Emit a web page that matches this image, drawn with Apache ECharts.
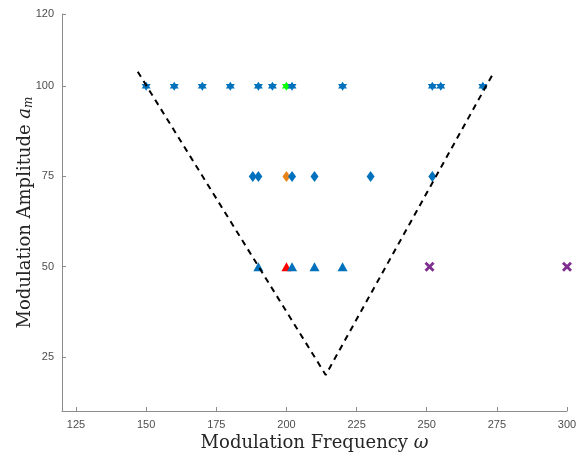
<!DOCTYPE html>
<html>
<head>
<meta charset="utf-8">
<script src="https://cdn.jsdelivr.net/npm/echarts@6/dist/echarts.min.js"></script>
</head>
<body style="margin:0">
<div id="main" style="width:579px;height:455px;"></div>
<script>
// frequencies tested at each amplitude
var freqAmp100 = [150, 160, 170, 180, 190, 195, 202, 220, 252, 255, 270];
var freqAmp75 = [188, 190, 202, 210, 230, 252];
var freqAmp50 = [190, 202, 210, 220];
var freqCross50 = [251, 300];
var highlight = [[200, 100], [200, 75], [200, 50]];
// dashed V boundary
var vFreq = [147, 214, 274];
var vAmp = [104, 20, 104];
var xTicks = [125, 150, 175, 200, 225, 250, 275, 300];
var yTicks = [25, 50, 75, 100, 120];

var hexagram = 'path://M0,-100 L28.9,-50 L86.6,-50 L57.7,0 L86.6,50 L28.9,50 L0,100 L-28.9,50 L-86.6,50 L-57.7,0 L-86.6,-50 L-28.9,-50 Z';
var cross = 'path://M-3,-5 L0,-2 L3,-5 L5,-3 L2,0 L5,3 L3,5 L0,2 L-3,5 L-5,3 L-2,0 L-5,-3 Z';
var blue = '#0072BD';

function pts(xs, y) {
    return xs.map(function (x) { return [x, y]; });
}

var chart = echarts.init(document.getElementById('main'));
var axisCommon = {
    axisLine: {lineStyle: {color: '#8c8c8c', width: 1}},
    axisTick: {inside: true, length: 4, lineStyle: {color: '#8c8c8c'}},
    splitLine: {show: false},
    nameMoveOverlap: false,
    nameTextStyle: {
        color: '#262626',
        rich: {
            n: {fontFamily: 'DejaVu Serif', fontSize: 18, color: '#262626'},
            i: {fontFamily: 'DejaVu Serif', fontStyle: 'italic', fontSize: 18, color: '#262626'},
            s: {fontFamily: 'DejaVu Serif', fontStyle: 'italic', fontSize: 12, color: '#262626', verticalAlign: 'bottom', padding: [8, 0, 0, 0]}
        }
    }
};

function dot(color) {
    return {color: color, opacity: 1};
}

var option = {
    animation: false,
    grid: {left: 62, right: 12, top: 14, bottom: 44, outerBoundsMode: 'none', containLabel: false},
    xAxis: Object.assign({}, axisCommon, {
        type: 'value', min: 120, max: 300,
        name: '{n|Modulation Frequency }{i|ω}',
        nameLocation: 'middle', nameGap: 23,
        axisTick: Object.assign({}, axisCommon.axisTick, {customValues: xTicks}),
        axisLabel: {customValues: xTicks, color: '#4d4d4d', fontFamily: 'Liberation Sans', fontSize: 11, margin: 8}
    }),
    yAxis: Object.assign({}, axisCommon, {
        type: 'value', min: 10, max: 120,
        name: '{n|Modulation Amplitude }{i|a}{s|m}',
        nameLocation: 'middle', nameGap: 27, nameRotate: 90,
        axisTick: Object.assign({}, axisCommon.axisTick, {customValues: yTicks}),
        axisLabel: {customValues: yTicks, color: '#4d4d4d', fontFamily: 'Liberation Sans', fontSize: 11, margin: 8}
    }),
    series: [
        {type: 'scatter', symbol: hexagram, symbolSize: 9, itemStyle: dot(blue), data: pts(freqAmp100, 100)},
        {type: 'scatter', symbol: 'diamond', symbolSize: [8, 11], itemStyle: dot(blue), data: pts(freqAmp75, 75)},
        {type: 'scatter', symbol: 'triangle', symbolSize: [10, 9], itemStyle: dot(blue), data: pts(freqAmp50, 50)},
        {type: 'scatter', symbol: cross, symbolSize: 10, itemStyle: dot('#7E2F8E'), data: pts(freqCross50, 50)},
        {type: 'scatter', symbol: hexagram, symbolSize: 9, z: 1, itemStyle: dot('#00FF00'), data: [highlight[0]]},
        {type: 'scatter', symbol: 'diamond', symbolSize: [8, 11], z: 1, itemStyle: dot('#E8821A'), data: [highlight[1]]},
        {type: 'scatter', symbol: 'triangle', symbolSize: [10, 9], z: 1, itemStyle: dot('#FF0000'), data: [highlight[2]]},
        {
            type: 'line', z: 5, symbol: 'none',
            lineStyle: {color: '#000', width: 2, type: [6, 5]},
            data: vFreq.map(function (f, i) { return [f, vAmp[i]]; })
        }
    ]
};
chart.setOption(option);
</script>
</body>
</html>
